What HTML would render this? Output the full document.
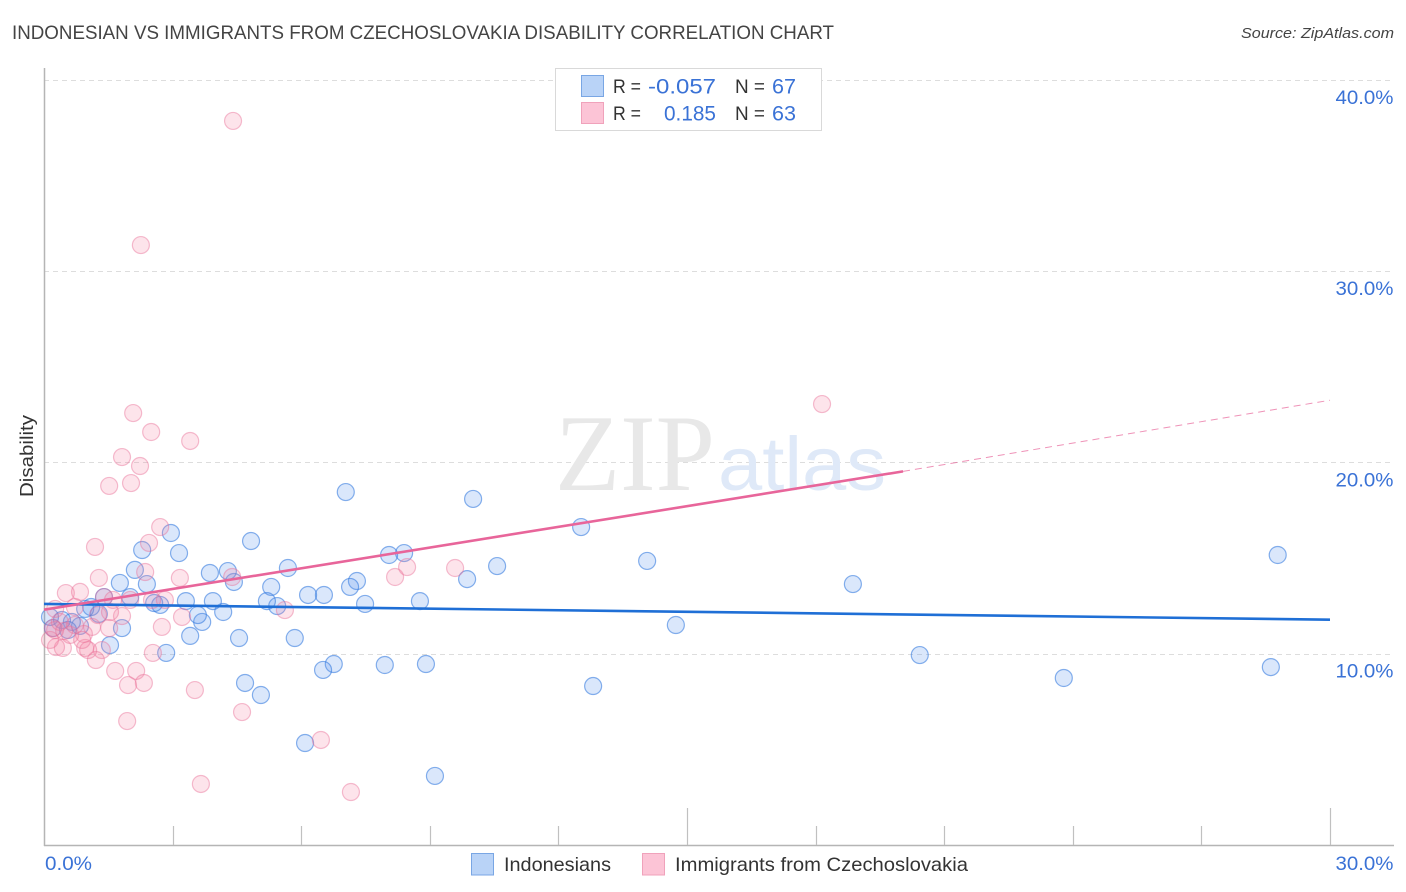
<!DOCTYPE html>
<html lang="en">
<head>
<meta charset="utf-8">
<title>Indonesian vs Immigrants from Czechoslovakia Disability Correlation Chart</title>
<style>
html,body{margin:0;padding:0;background:#fff;}
svg{display:block;font-family:"Liberation Sans",sans-serif;}
</style>
</head>
<body>
<svg id="chart" xmlns="http://www.w3.org/2000/svg" width="1406" height="892" viewBox="0 0 1406 892">
  <rect x="0" y="0" width="1406" height="892" fill="#fff"/>
  <text x="12" y="39" font-size="19" fill="#444" textLength="822" lengthAdjust="spacingAndGlyphs">INDONESIAN VS IMMIGRANTS FROM CZECHOSLOVAKIA DISABILITY CORRELATION CHART</text>
  <text x="1241" y="38" font-size="15" font-style="italic" fill="#444" textLength="153" lengthAdjust="spacingAndGlyphs">Source: ZipAtlas.com</text>

  <g id="grid"></g>
  <g>
    <text x="555" y="490" font-family="'Liberation Serif',serif" font-size="109" fill="#e8e8e8" textLength="160" lengthAdjust="spacingAndGlyphs">ZIP</text>
    <text x="718" y="490" font-family="'Liberation Sans',sans-serif" font-size="76" fill="#dfe9f8" textLength="168" lengthAdjust="spacingAndGlyphs">atlas</text>
  </g>
  <g id="axes"></g>
  <g id="points-blue"></g>
  <g id="points-pink"></g>
  <g id="trends"></g>
  <g id="labels"></g>

  <text transform="translate(33,456) rotate(-90)" text-anchor="middle" font-size="18" fill="#333" textLength="82" lengthAdjust="spacingAndGlyphs">Disability</text>

  <g>
    <rect x="555.5" y="68.5" width="266" height="62" fill="#fff" stroke="#d9d9d9" stroke-width="1"/>
    <rect x="581.5" y="75.5" width="22" height="21" fill="#b9d3f7" stroke="#79a6e4" stroke-width="1"/>
    <rect x="581.5" y="102.5" width="22" height="21" fill="#fcc4d6" stroke="#f0a2bb" stroke-width="1"/>
    <text x="613" y="93" font-size="19" fill="#333" textLength="28" lengthAdjust="spacingAndGlyphs">R =</text>
    <text x="648" y="93.5" font-size="21" fill="#3a72d6" textLength="68" lengthAdjust="spacingAndGlyphs">-0.057</text>
    <text x="735" y="93" font-size="19" fill="#333" textLength="30" lengthAdjust="spacingAndGlyphs">N =</text>
    <text x="772" y="93.5" font-size="21" fill="#3a72d6" textLength="24" lengthAdjust="spacingAndGlyphs">67</text>
    <text x="613" y="120" font-size="19" fill="#333" textLength="28" lengthAdjust="spacingAndGlyphs">R =</text>
    <text x="664" y="120.5" font-size="21" fill="#3a72d6" textLength="52" lengthAdjust="spacingAndGlyphs">0.185</text>
    <text x="735" y="120" font-size="19" fill="#333" textLength="30" lengthAdjust="spacingAndGlyphs">N =</text>
    <text x="772" y="120.5" font-size="21" fill="#3a72d6" textLength="24" lengthAdjust="spacingAndGlyphs">63</text>
  </g>

  <g>
    <g>
      <rect x="471.5" y="853.5" width="22" height="21.5" fill="#b9d3f7" stroke="#79a6e4" stroke-width="1"/>
      <text x="504" y="871" font-size="19.5" fill="#333" textLength="107" lengthAdjust="spacingAndGlyphs">Indonesians</text>
    </g>
    <g>
      <rect x="642.5" y="853.5" width="22" height="21.5" fill="#fcc4d6" stroke="#f0a2bb" stroke-width="1"/>
      <text x="675" y="871" font-size="19.5" fill="#333" textLength="293" lengthAdjust="spacingAndGlyphs">Immigrants from Czechoslovakia</text>
    </g>
  </g>
</svg>
<script>
const blueX = [28.78,28.62,23.79,20.43,18.87,14.74,14.07,12.81,12.53,10.57,10.01,9.87,9.12,8.91,8.77,8.40,8.05,7.95,7.49,7.30,7.14,7.04,6.76,6.51,6.53,6.16,6.09,5.85,5.69,5.44,5.30,5.20,5.06,4.83,4.69,4.55,4.43,4.29,4.18,3.94,3.87,3.69,3.59,3.41,3.31,3.15,2.96,2.85,2.71,2.57,2.40,2.29,2.12,2.01,1.82,1.77,1.54,1.40,1.28,1.10,0.96,0.84,0.65,0.42,0.21,0.14,0.56];
const blueY = [15.16,9.30,8.73,9.93,13.64,11.50,14.85,8.31,16.62,14.58,18.09,13.90,3.61,9.46,12.75,15.26,15.16,9.41,12.60,13.80,13.49,18.45,9.46,9.15,13.07,13.07,5.33,10.82,14.48,12.49,13.49,12.75,7.84,15.89,8.47,10.82,13.75,14.32,12.18,12.75,14.22,11.66,12.02,10.93,12.75,15.26,16.31,10.04,12.55,12.65,13.64,15.42,14.38,12.96,11.34,13.70,10.45,12.96,12.08,12.44,12.34,11.45,11.66,11.76,11.34,11.92,11.24];
const pinkX = [4.41,2.26,18.15,2.08,2.50,3.41,1.82,2.24,1.52,2.03,2.71,2.45,1.19,2.36,1.28,3.17,4.39,8.19,8.47,9.59,0.51,0.84,1.40,1.61,2.82,2.52,1.82,5.62,3.22,2.75,1.52,1.12,1.26,2.54,1.35,1.21,0.96,1.03,0.44,0.28,1.66,2.15,1.96,2.33,3.52,4.62,1.94,6.46,3.66,7.16,0.26,0.14,0.72,0.93,1.54,2.01,0.61,0.21,0.26,0.37,0.72,0.47,0.89];
const pinkY = [37.85,31.36,23.05,22.58,21.59,21.12,20.28,19.81,18.77,18.92,16.62,15.79,15.58,14.27,13.96,13.96,14.01,14.01,14.53,14.48,13.17,13.23,12.96,12.81,12.81,12.81,11.97,12.28,11.92,11.40,11.34,11.40,12.02,10.04,10.19,9.67,10.30,10.19,10.30,10.35,9.10,9.10,8.36,8.47,8.10,6.95,6.48,5.49,3.19,2.77,12.34,10.72,12.44,11.03,12.18,12.81,10.98,11.34,11.24,11.66,11.50,11.19,10.72];
const blueTrendX = [0,30];
const blueTrendY = [12.6,11.78];
const pinkTrendX = [0,20.04];
const pinkTrendY = [12.3,19.53];
const pinkDashX = [20.04,30];
const pinkDashY = [19.53,23.25];
const yTickValues = [10,20,30,40];
const yTickLabels = ["10.0%","20.0%","30.0%","40.0%"];
const xTickValues = [3,6,9,12,15,18,21,24,27,30];
const xMajorTicks = [15,30];
const xEndValues = [0,30];
const xEndLabels = ["0.0%","30.0%"];

const svgNS = "http://www.w3.org/2000/svg";
function xScale(v){ return 44 + v * (1286 / 30); }
function yScale(v){ return 845 - v * 19.13; }
function make(tag, attrs, parent){
  const el = document.createElementNS(svgNS, tag);
  for (const k in attrs) el.setAttribute(k, attrs[k]);
  parent.appendChild(el);
  return el;
}
const grid = document.getElementById("grid");
const axes = document.getElementById("axes");
const labels = document.getElementById("labels");
const trends = document.getElementById("trends");

yTickValues.forEach(function(v, i){
  const y = Math.round(yScale(v)) + 0.5;
  const line = make("line", {x1:44, x2:1394, y1:y, y2:y, stroke:"#dddddd", "stroke-width":1, "stroke-dasharray":"5 4"}, grid);
  
  
  const t = make("text", {x:1393.5, y:yScale(v) + 24, "text-anchor":"end", "font-size":19.5, fill:"#3a72d6", textLength:58, lengthAdjust:"spacingAndGlyphs"}, labels);
  t.textContent = yTickLabels[i];
  
  
});

const yAxis = make("line", {x1:44.5, x2:44.5, y1:68, y2:846, stroke:"#b5b5b5", "stroke-width":1.5}, axes);


const xAxis = make("line", {x1:44, x2:1394, y1:845.5, y2:845.5, stroke:"#b5b5b5", "stroke-width":1.5}, axes);



xTickValues.forEach(function(v){
  const x = Math.round(xScale(v)) + 0.5;
  const top = xMajorTicks.indexOf(v) >= 0 ? 808 : 826;
  const tick = make("line", {x1:x, x2:x, y1:top, y2:845, stroke:"#c0c0c0", "stroke-width":1.2}, axes);
  
  
});

xEndValues.forEach(function(v, i){
  const t = make("text", {x: i === 0 ? xScale(v) + 1 : 1393.5, y:870, "text-anchor": i === 0 ? "start" : "end", "font-size":19.5, fill:"#3a72d6", textLength: i === 0 ? 47 : 58, lengthAdjust:"spacingAndGlyphs"}, labels);
  t.textContent = xEndLabels[i];
  
  
});

const blueGroup = document.getElementById("points-blue");
blueX.forEach(function(v, i){
  const c = make("circle", {cx:xScale(v), cy:yScale(blueY[i]), r:8.5, fill:"rgba(86,146,235,0.22)", stroke:"rgba(50,120,222,0.58)", "stroke-width":1.2}, blueGroup);
  
  
});
const pinkGroup = document.getElementById("points-pink");
pinkX.forEach(function(v, i){
  const c = make("circle", {cx:xScale(v), cy:yScale(pinkY[i]), r:8.5, fill:"rgba(244,130,165,0.22)", stroke:"rgba(232,110,150,0.45)", "stroke-width":1.2}, pinkGroup);
  
  
});

const blueTrend = make("line", {x1:xScale(blueTrendX[0]), y1:yScale(blueTrendY[0]), x2:xScale(blueTrendX[1]), y2:yScale(blueTrendY[1]), stroke:"#1f6fd6", "stroke-width":2.6}, trends);


const pinkTrend = make("line", {x1:xScale(pinkTrendX[0]), y1:yScale(pinkTrendY[0]), x2:xScale(pinkTrendX[1]), y2:yScale(pinkTrendY[1]), stroke:"#e8659a", "stroke-width":2.6}, trends);


const pinkDash = make("line", {x1:xScale(pinkDashX[0]), y1:yScale(pinkDashY[0]), x2:xScale(pinkDashX[1]), y2:yScale(pinkDashY[1]), stroke:"#e8659a", "stroke-width":1, "stroke-dasharray":"7 5", opacity:0.7}, trends);


</script>
</body>
</html>
